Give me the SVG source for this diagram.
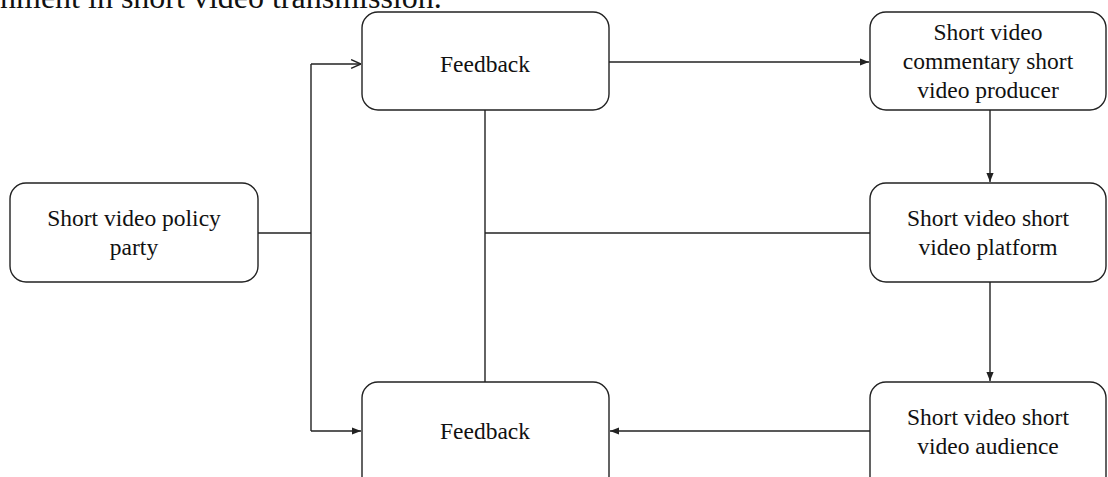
<svg xmlns="http://www.w3.org/2000/svg" width="1108" height="477" viewBox="0 0 1108 477">
<style>
.box{fill:#fff;stroke:#222;stroke-width:1.4}
.ln{fill:none;stroke:#222;stroke-width:1.4}
</style>
<defs>
<marker id="fa" viewBox="0 0 10 10" refX="10" refY="5" markerWidth="9" markerHeight="9" markerUnits="userSpaceOnUse" orient="auto"><path d="M0,1 L10,5 L0,9 Z" fill="#222"/></marker>
<marker id="oa" viewBox="0 0 10 10" refX="10" refY="5" markerWidth="11" markerHeight="11" markerUnits="userSpaceOnUse" orient="auto"><path d="M1,1 L10,5 L1,9" fill="none" stroke="#222" stroke-width="1.3"/></marker>
</defs>
<text x="0" y="8" font-family="'Liberation Serif', 'Times New Roman', serif" font-size="32" fill="#111">nment in short video transmission.</text>
<g id="connectors">
<path class="ln" d="M258,233 H311"/>
<path class="ln" d="M311,64 V431"/>
<path class="ln" d="M311,64 H361" marker-end="url(#oa)"/>
<path class="ln" d="M311,431 H361" marker-end="url(#fa)"/>
<path class="ln" d="M609,62 H869" marker-end="url(#fa)"/>
<path class="ln" d="M990,110 V182" marker-end="url(#fa)"/>
<path class="ln" d="M990,282 V381" marker-end="url(#fa)"/>
<path class="ln" d="M870,431 H610" marker-end="url(#fa)"/>
<path class="ln" d="M485,110 V382"/>
<path class="ln" d="M485,233 H870"/>
</g>
<g font-family="'Liberation Serif', 'Times New Roman', serif" font-size="23.5" fill="#111" text-anchor="middle">
<g id="feedback-top"><rect class="box" x="362" y="12" width="247" height="98" rx="16"/><text x="485" y="72">Feedback</text></g>
<g id="producer"><rect class="box" x="870" y="12" width="236" height="98" rx="16"/>
<text x="988" y="40">Short video</text><text x="988" y="69">commentary short</text><text x="988" y="98">video producer</text></g>
<g id="policy"><rect class="box" x="10" y="183" width="248" height="99" rx="16"/>
<text x="134" y="226">Short video policy</text><text x="134" y="255">party</text></g>
<g id="platform"><rect class="box" x="870" y="183" width="236" height="99" rx="16"/>
<text x="988" y="226">Short video short</text><text x="988" y="255">video platform</text></g>
<g id="feedback-bottom"><rect class="box" x="362" y="382" width="247" height="110" rx="16"/><text x="485" y="439">Feedback</text></g>
<g id="audience"><rect class="box" x="870" y="382" width="236" height="110" rx="16"/>
<text x="988" y="425">Short video short</text><text x="988" y="454">video audience</text></g>
</g>
</svg>
